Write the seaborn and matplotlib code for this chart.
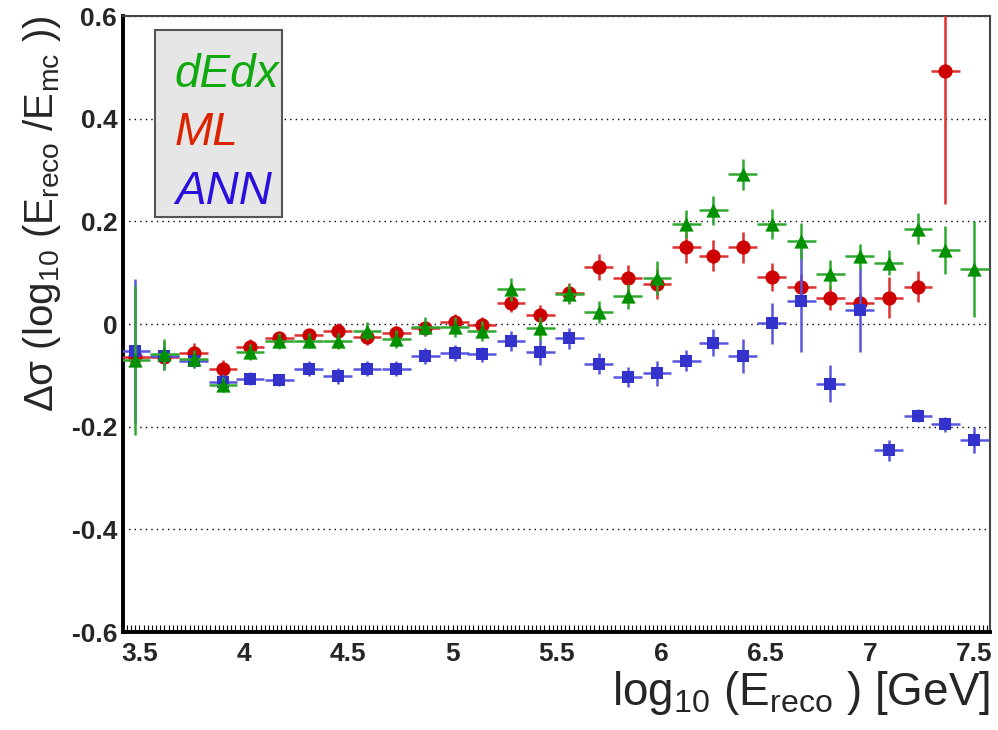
import numpy as np
import matplotlib
matplotlib.use("Agg")
import matplotlib.pyplot as plt
import seaborn as sns
from matplotlib.patches import Rectangle
from matplotlib.ticker import MultipleLocator

# bin centres, log10(E_reco / GeV)
x_bins = [3.48, 3.62, 3.76, 3.90, 4.03, 4.17, 4.31, 4.45, 4.59, 4.73,
          4.87, 5.01, 5.14, 5.28, 5.42, 5.56, 5.70, 5.84, 5.98, 6.12,
          6.25, 6.39, 6.53, 6.67, 6.81, 6.95, 7.09, 7.23, 7.36, 7.50]
x_halfwidth = 0.069

dedx = [-0.070, -0.059, -0.068, -0.118, -0.054, -0.033, -0.032, -0.033, -0.013, -0.029,
        -0.005, -0.006, -0.013, 0.068, -0.008, 0.059, 0.024, 0.054, 0.089, 0.195,
        0.222, 0.292, 0.195, 0.161, 0.097, 0.132, 0.120, 0.186, 0.144, 0.107]
dedx_err = [0.145, 0.030, 0.018, 0.015, 0.015, 0.015, 0.015, 0.015, 0.018, 0.018,
            0.018, 0.020, 0.020, 0.022, 0.022, 0.020, 0.022, 0.025, 0.033, 0.028,
            0.028, 0.030, 0.030, 0.035, 0.028, 0.025, 0.025, 0.030, 0.047, 0.094]

ml = [-0.064, -0.064, -0.057, -0.088, -0.044, -0.028, -0.022, -0.013, -0.026, -0.018,
      -0.008, 0.004, -0.001, 0.042, 0.017, 0.061, 0.111, 0.090, 0.079, 0.150,
      0.133, 0.150, 0.092, 0.073, 0.051, 0.041, 0.051, 0.073, 0.493, np.nan]
ml_err = [0.015, 0.020, 0.020, 0.018, 0.015, 0.012, 0.012, 0.015, 0.015, 0.015,
          0.015, 0.015, 0.015, 0.018, 0.020, 0.020, 0.025, 0.025, 0.031, 0.030,
          0.030, 0.030, 0.028, 0.025, 0.023, 0.020, 0.040, 0.030, 0.260, np.nan]

ann = [-0.052, -0.062, -0.071, -0.113, -0.106, -0.109, -0.087, -0.101, -0.087, -0.087,
       -0.062, -0.056, -0.059, -0.033, -0.054, -0.028, -0.077, -0.103, -0.096, -0.071,
       -0.036, -0.062, 0.002, 0.046, -0.116, 0.028, -0.246, -0.178, -0.195, -0.226]
ann_err = [0.140, 0.028, 0.015, 0.015, 0.012, 0.012, 0.015, 0.015, 0.015, 0.015,
           0.015, 0.015, 0.015, 0.020, 0.025, 0.020, 0.020, 0.020, 0.025, 0.020,
           0.027, 0.033, 0.040, 0.100, 0.036, 0.082, 0.020, 0.012, 0.015, 0.025]

x_ticks = [3.5, 4.0, 4.5, 5.0, 5.5, 6.0, 6.5, 7.0, 7.5]
x_ticklabels = ["3.5", "4", "4.5", "5", "5.5", "6", "6.5", "7", "7.5"]
y_ticks = [-0.6, -0.4, -0.2, 0.0, 0.2, 0.4, 0.6]
y_ticklabels = ["-0.6", "-0.4", "-0.2", "0", "0.2", "0.4", "0.6"]

sns.set_style("white")
plt.rcParams['font.family'] = ['Liberation Sans', 'DejaVu Sans']
plt.rcParams['mathtext.fontset'] = 'custom'
plt.rcParams['mathtext.rm'] = 'Liberation Sans'
plt.rcParams['mathtext.it'] = 'Liberation Sans:italic'
plt.rcParams['mathtext.bf'] = 'Liberation Sans:bold'

fig = plt.figure(figsize=(9.98, 7.30), dpi=100)
ax = fig.add_axes([0.123, 0.134, 0.869, 0.844])

# (series, errors, marker colour, bar colour, marker, size) -- drawn red, blue, green
series = [
    (ml, ml_err, "#cc0000", "#dd3030", "o", 105),
    (ann, ann_err, "#3333cc", "#5555dd", "s", 70),
    (dedx, dedx_err, "#009000", "#30a830", "^", 105),
]
z = 3
for vals, errs, mcol, ecol, mk, size in series:
    ax.errorbar(x_bins, vals, yerr=errs, xerr=x_halfwidth, fmt="none",
                ecolor=ecol, elinewidth=1.8, capsize=0, zorder=z)
    sns.scatterplot(x=x_bins, y=vals, marker=mk, color=mcol, s=size,
                    linewidth=0, ax=ax, zorder=z + 1)
    z += 2

ax.set_xlim(3.42, 7.575)
ax.set_ylim(-0.6, 0.6)

ax.set_xticks(x_ticks)
ax.set_xticklabels(x_ticklabels, fontsize=19, fontweight="bold")
ax.set_yticks(y_ticks)
ax.set_yticklabels(y_ticklabels, fontsize=19, fontweight="bold")
ax.xaxis.set_minor_locator(MultipleLocator(0.1))
ax.yaxis.set_minor_locator(MultipleLocator(0.05))
ax.tick_params(axis="both", which="major", direction="in", length=20, width=1.3,
               color="black", pad=7)
ax.tick_params(axis="both", which="minor", direction="in", length=10, width=1.0,
               color="black")
ax.tick_params(axis="y", which="major", pad=4)

# fine third-level ticks along the x axis
fine = ax.secondary_xaxis("bottom")
fine.set_xticks([])
fine.xaxis.set_minor_locator(MultipleLocator(0.02))
fine.tick_params(which="minor", direction="in", length=5, width=0.8, color="black")
fine.spines["bottom"].set_visible(False)

ax.yaxis.grid(True, linestyle=(0, (1, 3)), color="black", linewidth=1.0)
ax.xaxis.grid(False)
ax.set_axisbelow(True)

for side in ["left", "bottom"]:
    ax.spines[side].set_linewidth(2.8)
    ax.spines[side].set_color("black")
for side in ["top", "right"]:
    ax.spines[side].set_linewidth(1.5)
    ax.spines[side].set_color("#444444")

ax.set_xlabel("log$_{10}$ (E$_{\\rm reco}$ ) [GeV]", fontsize=33, loc="right",
              labelpad=2)
ax.set_ylabel("\u0394\u03c3 (log$_{10}$ (E$_{\\rm reco}$ /E$_{\\rm mc}$ ))",
              fontsize=29, loc="top", labelpad=6)

# legend box with coloured labels
ax.add_patch(Rectangle((0.037, 0.674), 0.147, 0.303, transform=ax.transAxes,
                       facecolor="#e6e6e6", edgecolor="#555555", linewidth=1.5,
                       zorder=10))
legend_items = [("dEdx", "#10aa10", 0.905), ("ML", "#dd2200", 0.810),
                ("ANN", "#2a10dd", 0.715)]
for label, col, ypos in legend_items:
    ax.text(0.06, ypos, label, transform=ax.transAxes, color=col, fontsize=33,
            fontstyle="italic", va="center", ha="left", zorder=11)

fig.savefig("out.png", dpi=100)
